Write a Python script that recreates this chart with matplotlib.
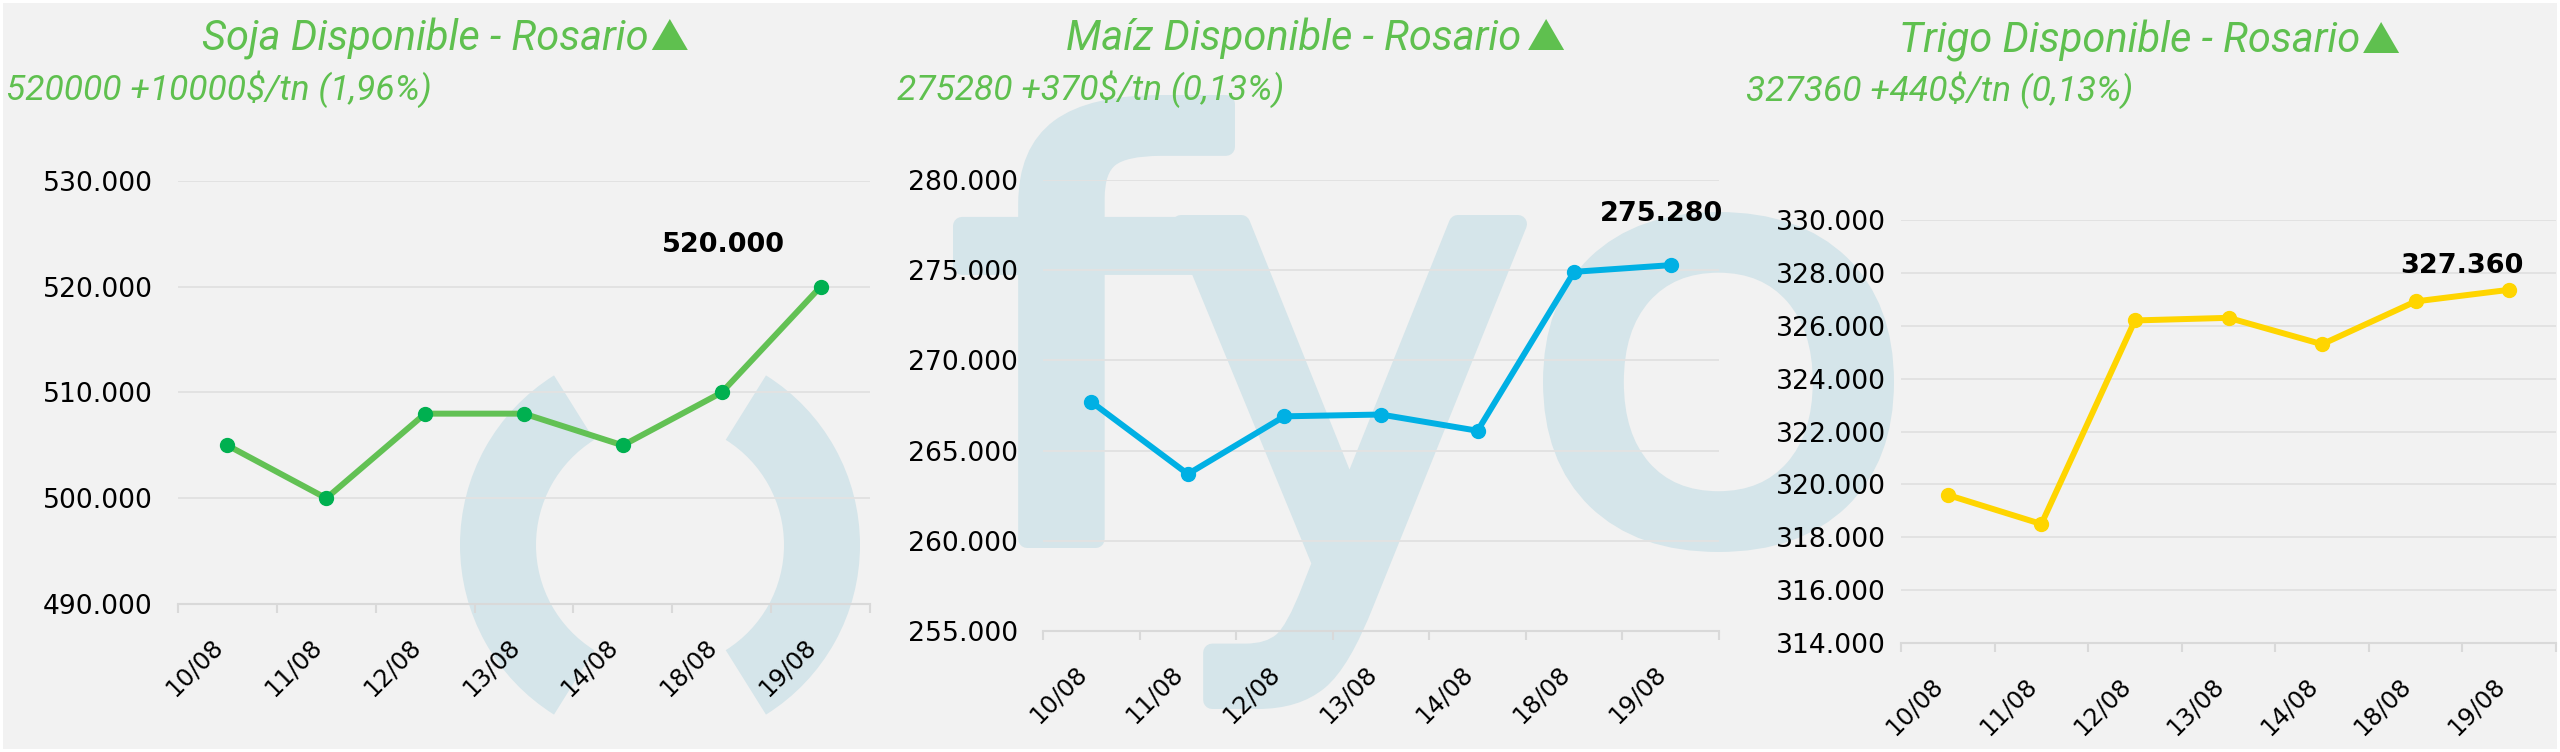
import numpy as np
import matplotlib
matplotlib.use('Agg')
import matplotlib.pyplot as plt
from matplotlib.textpath import TextPath
from matplotlib.font_manager import FontProperties
from matplotlib.patches import PathPatch, Wedge, Rectangle, Polygon
from matplotlib.transforms import Affine2D
from matplotlib.ticker import FuncFormatter, MultipleLocator

# Datos
fechas = ['10/08', '11/08', '12/08', '13/08', '14/08', '18/08', '19/08']
soja = [505000, 500000, 508000, 508000, 505000, 510000, 520000]
maiz = [267700, 263700, 266900, 267000, 266100, 274910, 275280]
trigo = [319600, 318500, 326200, 326300, 325300, 326920, 327360]

titulos = ['Soja Disponible - Rosario', 'Maíz Disponible - Rosario', 'Trigo Disponible - Rosario']
rangos_y = [(490000, 530000, 10000), (255000, 280000, 5000), (314000, 330000, 2000)]

W, H = 2560, 752
VERDE = '#5fc04f'
FONDO = '#f2f2f2'
MARCA = '#d5e5ea'

fig = plt.figure(figsize=(W / 100, H / 100), dpi=100, facecolor='white')
fig.patches.append(Rectangle((3, 3), W - 6, H - 6, transform=None,
                             facecolor=FONDO, edgecolor='none', zorder=-3))


def rect(left, right, top, bottom):
    return [left / W, (H - bottom) / H, (right - left) / W, (bottom - top) / H]


def letra(ch, x0, x1, y0, y1, borde=9):
    # y0, y1 medidos desde arriba; el borde engrosa el trazo
    tp = TextPath((0, 0), ch, size=100, prop=FontProperties(family='DejaVu Sans'))
    ext = tp.get_extents()
    x0, x1, y0, y1 = x0 + borde, x1 - borde, y0 + borde, y1 - borde
    sx = (x1 - x0) / ext.width
    sy = (y1 - y0) / ext.height
    tr = Affine2D().translate(-ext.x0, -ext.y0).scale(sx, sy).translate(x0, H - y1)
    fig.patches.append(PathPatch(tr.transform_path(tp), transform=None,
                                 facecolor=MARCA, edgecolor=MARCA, lw=borde * 2 * 0.72,
                                 joinstyle='round', zorder=-2))


# marca de agua "fyo"
letra('f', 953, 1235, 95, 548)
letra('y', 1172, 1527, 215, 709)
letra('o', 1543, 1894, 212, 552)
# arcos del primer panel
for t1, t2 in [(122, 238), (-58, 58)]:
    fig.patches.append(Wedge((660, H - 545), 200, t1, t2, width=76, transform=None,
                             facecolor=MARCA, edgecolor='none', zorder=-2))

paneles = [
    dict(datos=soja, caja=(178, 870, 181, 604), linea='#62c154', punto='#00b050',
         etiq=(-97, 42), ypad=18, tit=(445, 50), sub=(6, 100)),
    dict(datos=maiz, caja=(1043, 1719, 180, 631), linea='#00b0e4', punto='#00b0e4',
         etiq=(-9, 51), ypad=18, tit=(1315, 50), sub=(897, 100)),
    dict(datos=trigo, caja=(1901, 2556, 220, 643), linea='#ffd500', punto='#ffd500',
         etiq=(-47, 24), ypad=11, tit=(2149, 53), sub=(1746, 101)),
]
huecos = [3, 7, 3]

renderer = fig.canvas.get_renderer()
x = np.arange(len(fechas))
for i, p in enumerate(paneles):
    ax = fig.add_axes(rect(*p['caja']))
    ax.set_facecolor('none')
    vals = p['datos']
    ax.plot(x, vals, color=p['linea'], lw=4.3, zorder=3, solid_capstyle='round')
    ax.plot(x, vals, 'o', color=p['punto'], ms=10, zorder=4)

    ymin, ymax, paso = rangos_y[i]
    ax.set_ylim(ymin, ymax)
    ax.yaxis.set_major_locator(MultipleLocator(paso))
    ax.yaxis.set_major_formatter(FuncFormatter(lambda v, pos: f'{v:,.0f}'.replace(',', '.')))
    ax.set_xlim(-0.5, len(fechas) - 0.5)
    ax.set_xticks(x)
    ax.set_xticklabels(fechas, rotation=45, ha='right', va='top',
                       fontsize=17.5, family='DejaVu Sans')
    ax.set_xticks(np.arange(-0.5, len(fechas)), minor=True)
    ax.tick_params(axis='x', which='major', length=0, pad=22)
    ax.tick_params(axis='x', which='minor', length=6.5, width=1.5, color='#d9d9d9')
    ax.tick_params(axis='y', length=0, pad=p['ypad'], labelsize=19.2)

    for s in ['left', 'right', 'top']:
        ax.spines[s].set_visible(False)
    ax.spines['bottom'].set_color('#d9d9d9')
    ax.spines['bottom'].set_linewidth(1.5)
    ax.yaxis.grid(True, color='#e2e2e2', lw=1.4)
    ax.set_axisbelow(True)

    ult = vals[-1]
    ax.annotate(f'{ult:,.0f}'.replace(',', '.'), xy=(x[-1], ult), xytext=p['etiq'],
                textcoords='offset pixels', ha='center', va='center',
                fontsize=19.5, fontweight='bold', family='DejaVu Sans', color='black')

    # titulo con triangulo
    cx, yb = p['tit']
    t = fig.text(0, 1 - yb / H, titulos[i], ha='left', va='baseline',
                 fontsize=30, style='italic', color=VERDE, family='Roboto')
    ancho = t.get_window_extent(renderer).width
    tw, th, gap = 36, 31, huecos[i]
    x0 = cx - (ancho + gap + tw) / 2
    t.set_x(x0 / W)
    xt = x0 + ancho + gap
    fig.patches.append(Polygon([(xt, H - yb), (xt + tw, H - yb), (xt + tw / 2, H - yb + th)],
                               closed=True, transform=None, facecolor=VERDE,
                               edgecolor='none', zorder=2))

    # variacion
    dif = vals[-1] - vals[-2]
    pct = dif / vals[-2] * 100
    sub = f'{ult} +{dif}$/tn ({pct:.2f}%)'.replace('.', ',')
    fig.text(p['sub'][0] / W, 1 - p['sub'][1] / H, sub, ha='left', va='baseline',
             fontsize=25.5, style='italic', color=VERDE, family='Roboto')

fig.savefig('out.png', dpi=100, facecolor=fig.get_facecolor())
